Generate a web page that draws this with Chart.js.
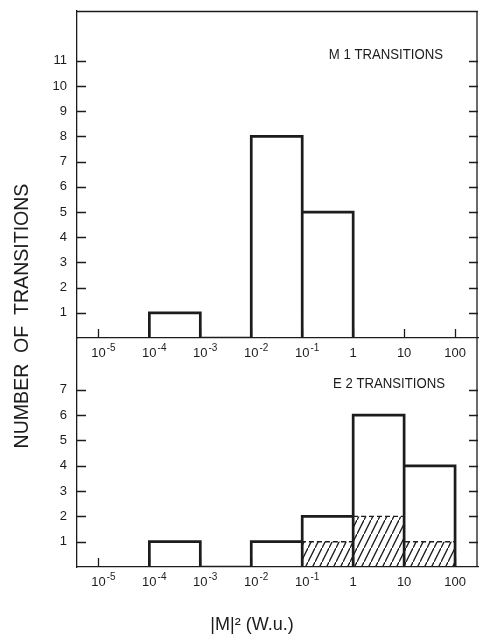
<!DOCTYPE html>
<html>
<head>
<meta charset="utf-8">
<script src="https://cdn.jsdelivr.net/npm/chart.js@4/dist/chart.umd.min.js"></script>
<style>
  html, body { margin: 0; padding: 0; background: #fff; }
  #wrap { position: relative; width: 480px; height: 641px; overflow: hidden; }
  canvas { position: absolute; left: 0; }
  #topChart { top: 0; z-index: 2; }
  #bottomChart { top: 338px; z-index: 1; }
</style>
</head>
<body>
<div id="wrap">
  <canvas id="topChart" width="480" height="641"></canvas>
  <canvas id="bottomChart" width="480" height="303"></canvas>
</div>
<script>
// x axis: decades of |M|^2, given as exponents of 10
const decades = [-5, -4, -3, -2, -1, 0, 1, 2];
const decadeLabels = [['10', '-5'], ['10', '-4'], ['10', '-3'], ['10', '-2'], ['10', '-1'], ['1', ''], ['10', ''], ['100', '']];

// M1 transitions: lower edge (exponent) of each one-decade bin, and its count
const m1Bins = [-4, -2, -1];
const m1Counts = [1, 8, 5];
const m1Ticks = [1, 2, 3, 4, 5, 6, 7, 8, 9, 10, 11];

// E2 transitions
const e2Bins = [-4, -2, -1, 0, 1];
const e2Counts = [1, 1, 2, 6, 4];
// hatched part of the E2 histogram
const e2HatchBins = [-1, 0, 1];
const e2HatchCounts = [1, 2, 1];
const e2Ticks = [1, 2, 3, 4, 5, 6, 7];

const INK = '#1c1c1c';
const FONT = "'Liberation Sans', Arial, sans-serif";

// histogram outline: one closed box per bin
function outline(bins, counts) {
    const pts = [];
    bins.forEach((lo, i) => {
        pts.push({ x: lo, y: 0 }, { x: lo, y: counts[i] }, { x: lo + 1, y: counts[i] }, { x: lo + 1, y: 0 });
    });
    return pts;
}

// diagonal hatch pattern
function hatch() {
    const c = document.createElement('canvas');
    c.width = 7; c.height = 14;
    const g = c.getContext('2d');
    g.strokeStyle = INK;
    g.lineWidth = 1.3;
    g.beginPath();
    g.moveTo(-1, 16); g.lineTo(8, -2);
    g.stroke();
    return g.createPattern(c, 'repeat');
}

// frame, inward ticks, decade labels and free text
const framePlugin = {
    id: 'frame',
    afterDraw(chart, args, opts) {
        const ctx = chart.ctx;
        const { left, right, top, bottom } = chart.chartArea;
        const x = chart.scales.x, y = chart.scales.y;
        ctx.save();
        ctx.strokeStyle = INK;
        ctx.lineWidth = 1.3;
        ctx.beginPath();
        ctx.moveTo(right - 1, top);
        ctx.lineTo(right - 1, bottom);
        if (opts.topLine) {
            ctx.moveTo(left, top + 0.5);
            ctx.lineTo(right, top + 0.5);
        }
        opts.yTicks.forEach(v => {
            const py = Math.round(y.getPixelForValue(v)) + 0.5;
            ctx.moveTo(left, py); ctx.lineTo(left + 9, py);
            ctx.moveTo(right - 9, py); ctx.lineTo(right, py);
        });
        decades.forEach(d => {
            const px = Math.round(x.getPixelForValue(d)) + 0.5;
            ctx.moveTo(px, bottom); ctx.lineTo(px, bottom - 9);
        });
        ctx.stroke();

        ctx.fillStyle = INK;
        // decade labels: base centred on the tick, exponent raised to its right
        ctx.textBaseline = 'alphabetic';
        decades.forEach((d, i) => {
            const [base, exp] = decadeLabels[i];
            const px = x.getPixelForValue(d);
            const py = bottom + 19;
            ctx.font = '13px ' + FONT;
            ctx.textAlign = 'center';
            ctx.fillText(base, px, py);
            if (exp) {
                const w = ctx.measureText(base).width;
                ctx.font = '10px ' + FONT;
                ctx.textAlign = 'left';
                ctx.fillText(exp, px + w / 2 + 1, py - 6);
            }
        });

        (opts.texts || []).forEach(t => {
            ctx.save();
            ctx.font = t.font;
            ctx.textAlign = t.align || 'center';
            ctx.textBaseline = 'middle';
            ctx.translate(t.x, t.y);
            if (t.rotate) ctx.rotate(t.rotate);
            ctx.scale(t.sx || 1, 1);
            ctx.fillText(t.text, 0, 0);
            ctx.restore();
        });
        ctx.restore();
    }
};

function xScale(height) {
    return {
        type: 'linear',
        min: -5.42,
        max: 2.45,
        afterBuildTicks: s => { s.ticks = decades.map(v => ({ value: v })); },
        afterFit: s => { s.height = height; s.paddingLeft = 0; s.paddingRight = 0; },
        ticks: { display: false },
        grid: { drawOnChartArea: false, drawTicks: false },
        border: { display: true, color: INK, width: 1.3 }
    };
}

function yScale(max, ticks) {
    return {
        min: 0,
        max: max,
        afterBuildTicks: s => { s.ticks = ticks.map(v => ({ value: v })); },
        afterFit: s => { s.width = 77; s.paddingTop = 0; s.paddingBottom = 0; },
        ticks: { color: INK, padding: 10, font: { family: FONT, size: 13 } },
        grid: { drawOnChartArea: false, drawTicks: false },
        border: { display: true, color: INK, width: 1.3 }
    };
}

const common = {
    responsive: false,
    animation: false,
    events: [],
    elements: { point: { radius: 0 }, line: { tension: 0 } }
};

new Chart(document.getElementById('topChart').getContext('2d'), {
    type: 'line',
    data: {
        datasets: [{
            label: 'M1',
            data: outline(m1Bins, m1Counts),
            borderColor: INK,
            borderWidth: 2.7,
            fill: false
        }]
    },
    options: {
        ...common,
        layout: { padding: { top: 11, right: 2, left: 0, bottom: 0 } },
        plugins: {
            legend: { display: false },
            tooltip: { enabled: false },
            frame: {
                topLine: true,
                yTicks: m1Ticks,
                texts: [
                    { text: 'M 1 TRANSITIONS', x: 443, y: 55, align: 'right', sx: 0.85, font: '15.5px ' + FONT },
                    { text: 'NUMBER  OF  TRANSITIONS', x: 22, y: 316, rotate: -Math.PI / 2, sx: 0.93, font: '21px ' + FONT }
                ]
            }
        },
        scales: { x: xScale(303), y: yScale(12.98, m1Ticks) }
    },
    plugins: [framePlugin]
});

new Chart(document.getElementById('bottomChart').getContext('2d'), {
    type: 'line',
    data: {
        datasets: [{
            label: 'E2',
            data: outline(e2Bins, e2Counts),
            borderColor: INK,
            borderWidth: 2.7,
            fill: false,
            order: 1
        }, {
            label: 'E2 hatched',
            data: outline(e2HatchBins, e2HatchCounts),
            borderColor: INK,
            borderWidth: 1.4,
            borderDash: [5, 3],
            backgroundColor: hatch(),
            fill: 'origin',
            order: 2
        }]
    },
    options: {
        ...common,
        layout: { padding: { top: 0, right: 2, left: 0, bottom: 0 } },
        plugins: {
            legend: { display: false },
            tooltip: { enabled: false },
            frame: {
                topLine: false,
                yTicks: e2Ticks,
                texts: [
                    { text: 'E 2 TRANSITIONS', x: 445, y: 46, align: 'right', sx: 0.85, font: '15.5px ' + FONT },
                    { text: '|M|² (W.u.)', x: 252, y: 287, font: '18px ' + FONT }
                ]
            }
        },
        scales: { x: xScale(74), y: yScale(9.05, e2Ticks) }
    },
    plugins: [framePlugin]
});
</script>
</body>
</html>
